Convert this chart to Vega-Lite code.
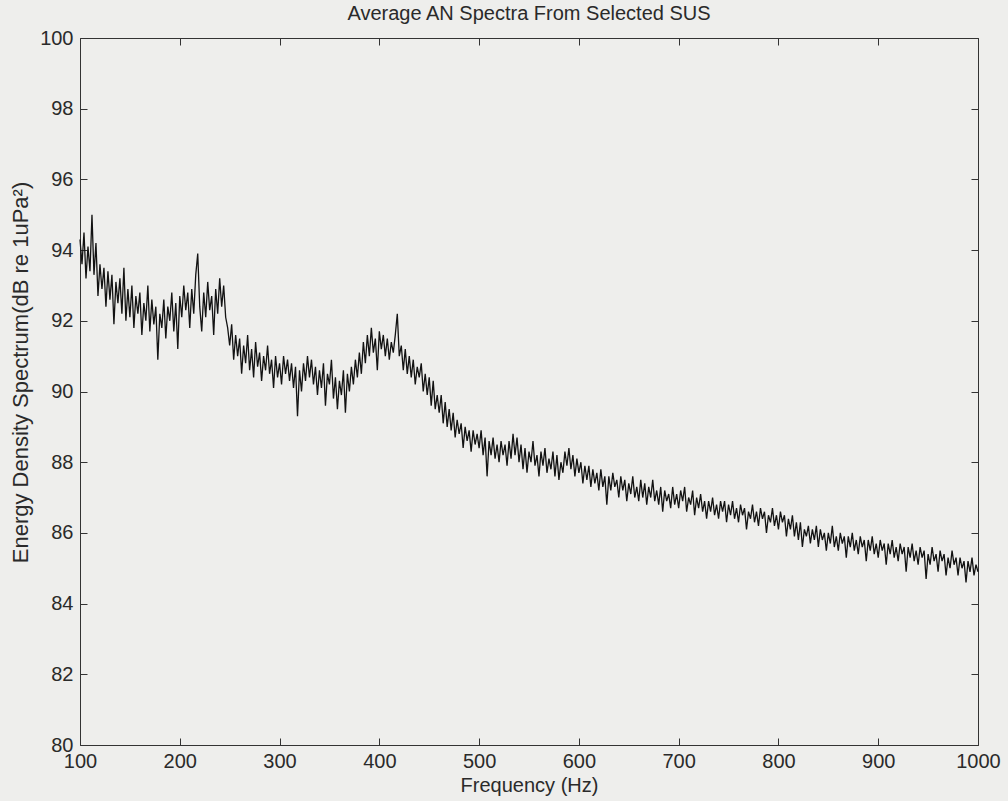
{
  "$schema": "https://vega.github.io/schema/vega-lite/v6.json",
  "width": 898,
  "height": 707,
  "autosize": {"type": "none"},
  "padding": {"left": 80, "top": 38, "right": 30, "bottom": 56},
  "background": "#eeeeec",
  "title": {"text": "Average AN Spectra From Selected SUS", "font": "Liberation Sans", "fontSize": 20, "fontWeight": "normal", "color": "#2a2a2a", "offset": 4, "anchor": "middle"},
  "config": {
    "view": {"stroke": null},
    "axis": {"domainColor": "#333333", "tickColor": "#333333", "tickSize": -7, "grid": false, "labelFlush": false, "labelFont": "Liberation Sans", "labelFontSize": 20, "labelColor": "#2a2a2a", "titleFont": "Liberation Sans", "titleFontSize": 20, "titleFontWeight": "normal", "titleColor": "#2a2a2a", "domainWidth": 1, "tickWidth": 1}
  },
  "data": {"values": [
{"f":100,"d":94.3},{"f":102,"d":93.6},{"f":104,"d":94.5},{"f":106,"d":93.2},{"f":108,"d":94.1},{"f":110,"d":93.4},{"f":112,"d":95.0},{"f":114,"d":93.3},{"f":116,"d":94.2},{"f":118,"d":92.7},
{"f":120,"d":93.6},{"f":122,"d":92.9},{"f":124,"d":93.5},{"f":126,"d":92.4},{"f":128,"d":93.4},{"f":130,"d":92.6},{"f":132,"d":93.3},{"f":134,"d":91.9},{"f":136,"d":93.1},{"f":138,"d":92.5},
{"f":140,"d":93.2},{"f":142,"d":92.2},{"f":144,"d":93.5},{"f":146,"d":92.0},{"f":148,"d":92.9},{"f":150,"d":92.1},{"f":152,"d":93.0},{"f":154,"d":91.8},{"f":156,"d":92.7},{"f":158,"d":92.2},
{"f":160,"d":92.8},{"f":162,"d":91.6},{"f":164,"d":92.5},{"f":166,"d":92.0},{"f":168,"d":93.0},{"f":170,"d":91.7},{"f":172,"d":92.6},{"f":174,"d":91.9},{"f":176,"d":92.4},{"f":178,"d":90.9},
{"f":180,"d":92.2},{"f":182,"d":91.8},{"f":184,"d":92.6},{"f":186,"d":91.5},{"f":188,"d":92.4},{"f":190,"d":92.0},{"f":192,"d":92.8},{"f":194,"d":91.7},{"f":196,"d":92.5},{"f":198,"d":91.2},
{"f":200,"d":92.7},{"f":202,"d":92.1},{"f":204,"d":93.0},{"f":206,"d":92.3},{"f":208,"d":92.8},{"f":210,"d":91.8},{"f":212,"d":92.9},{"f":214,"d":92.2},{"f":216,"d":93.3},{"f":218,"d":93.9},
{"f":220,"d":92.4},{"f":222,"d":91.7},{"f":224,"d":92.8},{"f":226,"d":92.1},{"f":228,"d":93.1},{"f":230,"d":92.3},{"f":232,"d":92.7},{"f":234,"d":91.6},{"f":236,"d":92.9},{"f":238,"d":92.2},
{"f":240,"d":93.2},{"f":242,"d":92.4},{"f":244,"d":93.0},{"f":246,"d":92.1},{"f":248,"d":91.8},{"f":250,"d":91.3},{"f":252,"d":91.9},{"f":254,"d":90.9},{"f":256,"d":91.6},{"f":258,"d":91.0},
{"f":260,"d":91.5},{"f":262,"d":90.5},{"f":264,"d":91.3},{"f":266,"d":90.8},{"f":268,"d":91.6},{"f":270,"d":90.6},{"f":272,"d":91.2},{"f":274,"d":90.4},{"f":276,"d":91.4},{"f":278,"d":90.7},
{"f":280,"d":91.1},{"f":282,"d":90.3},{"f":284,"d":91.0},{"f":286,"d":90.6},{"f":288,"d":91.3},{"f":290,"d":90.5},{"f":292,"d":90.9},{"f":294,"d":90.1},{"f":296,"d":91.0},{"f":298,"d":90.4},
{"f":300,"d":90.8},{"f":302,"d":90.2},{"f":304,"d":91.0},{"f":306,"d":90.5},{"f":308,"d":90.9},{"f":310,"d":90.3},{"f":312,"d":90.8},{"f":314,"d":90.1},{"f":316,"d":90.7},{"f":318,"d":89.3},
{"f":320,"d":90.6},{"f":322,"d":90.0},{"f":324,"d":90.8},{"f":326,"d":90.3},{"f":328,"d":91.0},{"f":330,"d":90.4},{"f":332,"d":90.9},{"f":334,"d":90.2},{"f":336,"d":90.7},{"f":338,"d":89.9},
{"f":340,"d":90.6},{"f":342,"d":90.1},{"f":344,"d":90.8},{"f":346,"d":89.6},{"f":348,"d":90.5},{"f":350,"d":90.2},{"f":352,"d":90.9},{"f":354,"d":89.8},{"f":356,"d":90.4},{"f":358,"d":89.5},
{"f":360,"d":90.3},{"f":362,"d":89.9},{"f":364,"d":90.6},{"f":366,"d":89.4},{"f":368,"d":90.5},{"f":370,"d":90.0},{"f":372,"d":90.7},{"f":374,"d":90.2},{"f":376,"d":90.9},{"f":378,"d":90.4},
{"f":380,"d":91.1},{"f":382,"d":90.5},{"f":384,"d":91.4},{"f":386,"d":90.8},{"f":388,"d":91.6},{"f":390,"d":91.0},{"f":392,"d":91.8},{"f":394,"d":91.1},{"f":396,"d":91.5},{"f":398,"d":90.6},
{"f":400,"d":91.7},{"f":402,"d":91.2},{"f":404,"d":91.6},{"f":406,"d":91.0},{"f":408,"d":91.5},{"f":410,"d":90.9},{"f":412,"d":91.4},{"f":414,"d":91.1},{"f":416,"d":91.6},{"f":418,"d":92.2},
{"f":420,"d":91.0},{"f":422,"d":91.3},{"f":424,"d":90.6},{"f":426,"d":91.2},{"f":428,"d":90.5},{"f":430,"d":91.0},{"f":432,"d":90.4},{"f":434,"d":90.9},{"f":436,"d":90.2},{"f":438,"d":90.7},
{"f":440,"d":90.4},{"f":442,"d":90.8},{"f":444,"d":90.0},{"f":446,"d":90.5},{"f":448,"d":89.9},{"f":450,"d":90.4},{"f":452,"d":89.6},{"f":454,"d":90.3},{"f":456,"d":89.5},{"f":458,"d":89.9},
{"f":460,"d":89.4},{"f":462,"d":89.9},{"f":464,"d":89.1},{"f":466,"d":89.7},{"f":468,"d":89.0},{"f":470,"d":89.5},{"f":472,"d":88.9},{"f":474,"d":89.4},{"f":476,"d":88.7},{"f":478,"d":89.2},
{"f":480,"d":88.8},{"f":482,"d":89.1},{"f":484,"d":88.4},{"f":486,"d":89.0},{"f":488,"d":88.6},{"f":490,"d":88.9},{"f":492,"d":88.3},{"f":494,"d":88.9},{"f":496,"d":88.5},{"f":498,"d":88.8},
{"f":500,"d":88.4},{"f":502,"d":88.9},{"f":504,"d":88.2},{"f":506,"d":88.7},{"f":508,"d":87.6},{"f":510,"d":88.6},{"f":512,"d":88.2},{"f":514,"d":88.7},{"f":516,"d":88.1},{"f":518,"d":88.5},
{"f":520,"d":88.0},{"f":522,"d":88.6},{"f":524,"d":88.2},{"f":526,"d":88.5},{"f":528,"d":87.9},{"f":530,"d":88.6},{"f":532,"d":88.1},{"f":534,"d":88.8},{"f":536,"d":88.2},{"f":538,"d":88.7},
{"f":540,"d":88.0},{"f":542,"d":88.5},{"f":544,"d":87.8},{"f":546,"d":88.4},{"f":548,"d":87.7},{"f":550,"d":88.3},{"f":552,"d":88.0},{"f":554,"d":88.6},{"f":556,"d":87.9},{"f":558,"d":88.2},
{"f":560,"d":87.6},{"f":562,"d":88.3},{"f":564,"d":87.9},{"f":566,"d":88.4},{"f":568,"d":87.7},{"f":570,"d":88.1},{"f":572,"d":87.8},{"f":574,"d":88.3},{"f":576,"d":87.6},{"f":578,"d":88.2},
{"f":580,"d":87.5},{"f":582,"d":88.0},{"f":584,"d":87.7},{"f":586,"d":88.3},{"f":588,"d":87.9},{"f":590,"d":88.4},{"f":592,"d":87.8},{"f":594,"d":88.2},{"f":596,"d":87.6},{"f":598,"d":88.1},
{"f":600,"d":87.7},{"f":602,"d":88.0},{"f":604,"d":87.4},{"f":606,"d":87.9},{"f":608,"d":87.5},{"f":610,"d":87.9},{"f":612,"d":87.3},{"f":614,"d":87.8},{"f":616,"d":87.4},{"f":618,"d":87.7},
{"f":620,"d":87.2},{"f":622,"d":87.8},{"f":624,"d":87.3},{"f":626,"d":87.6},{"f":628,"d":86.8},{"f":630,"d":87.6},{"f":632,"d":87.2},{"f":634,"d":87.7},{"f":636,"d":87.3},{"f":638,"d":87.5},
{"f":640,"d":87.0},{"f":642,"d":87.6},{"f":644,"d":87.2},{"f":646,"d":87.5},{"f":648,"d":86.9},{"f":650,"d":87.4},{"f":652,"d":87.1},{"f":654,"d":87.6},{"f":656,"d":87.0},{"f":658,"d":87.3},
{"f":660,"d":86.9},{"f":662,"d":87.5},{"f":664,"d":87.0},{"f":666,"d":87.4},{"f":668,"d":86.8},{"f":670,"d":87.3},{"f":672,"d":87.0},{"f":674,"d":87.5},{"f":676,"d":86.9},{"f":678,"d":87.2},
{"f":680,"d":86.8},{"f":682,"d":87.3},{"f":684,"d":86.6},{"f":686,"d":87.2},{"f":688,"d":86.9},{"f":690,"d":87.1},{"f":692,"d":86.7},{"f":694,"d":87.3},{"f":696,"d":86.8},{"f":698,"d":87.1},
{"f":700,"d":86.7},{"f":702,"d":87.2},{"f":704,"d":86.9},{"f":706,"d":87.3},{"f":708,"d":86.6},{"f":710,"d":87.0},{"f":712,"d":86.8},{"f":714,"d":87.2},{"f":716,"d":86.5},{"f":718,"d":87.0},
{"f":720,"d":86.7},{"f":722,"d":87.1},{"f":724,"d":86.6},{"f":726,"d":86.9},{"f":728,"d":86.4},{"f":730,"d":86.9},{"f":732,"d":86.6},{"f":734,"d":87.0},{"f":736,"d":86.5},{"f":738,"d":86.8},
{"f":740,"d":86.4},{"f":742,"d":86.9},{"f":744,"d":86.6},{"f":746,"d":86.9},{"f":748,"d":86.3},{"f":750,"d":86.8},{"f":752,"d":86.5},{"f":754,"d":86.9},{"f":756,"d":86.4},{"f":758,"d":86.7},
{"f":760,"d":86.3},{"f":762,"d":86.8},{"f":764,"d":86.5},{"f":766,"d":86.7},{"f":768,"d":86.1},{"f":770,"d":86.6},{"f":772,"d":86.4},{"f":774,"d":86.8},{"f":776,"d":86.3},{"f":778,"d":86.6},
{"f":780,"d":86.2},{"f":782,"d":86.7},{"f":784,"d":86.4},{"f":786,"d":86.6},{"f":788,"d":86.0},{"f":790,"d":86.5},{"f":792,"d":86.3},{"f":794,"d":86.7},{"f":796,"d":86.2},{"f":798,"d":86.5},
{"f":800,"d":86.1},{"f":802,"d":86.6},{"f":804,"d":86.3},{"f":806,"d":86.5},{"f":808,"d":85.9},{"f":810,"d":86.4},{"f":812,"d":86.1},{"f":814,"d":86.5},{"f":816,"d":85.9},{"f":818,"d":86.3},
{"f":820,"d":85.8},{"f":822,"d":86.3},{"f":824,"d":85.6},{"f":826,"d":86.1},{"f":828,"d":85.9},{"f":830,"d":86.2},{"f":832,"d":85.7},{"f":834,"d":86.1},{"f":836,"d":85.8},{"f":838,"d":86.2},
{"f":840,"d":85.6},{"f":842,"d":86.1},{"f":844,"d":85.8},{"f":846,"d":86.0},{"f":848,"d":85.5},{"f":850,"d":86.0},{"f":852,"d":85.7},{"f":854,"d":86.2},{"f":856,"d":85.6},{"f":858,"d":85.9},
{"f":860,"d":85.5},{"f":862,"d":86.0},{"f":864,"d":85.7},{"f":866,"d":85.9},{"f":868,"d":85.3},{"f":870,"d":85.9},{"f":872,"d":85.6},{"f":874,"d":86.0},{"f":876,"d":85.5},{"f":878,"d":85.8},
{"f":880,"d":85.4},{"f":882,"d":85.9},{"f":884,"d":85.6},{"f":886,"d":85.8},{"f":888,"d":85.2},{"f":890,"d":85.8},{"f":892,"d":85.5},{"f":894,"d":85.9},{"f":896,"d":85.4},{"f":898,"d":85.7},
{"f":900,"d":85.3},{"f":902,"d":85.8},{"f":904,"d":85.5},{"f":906,"d":85.7},{"f":908,"d":85.1},{"f":910,"d":85.7},{"f":912,"d":85.4},{"f":914,"d":85.8},{"f":916,"d":85.3},{"f":918,"d":85.6},
{"f":920,"d":85.2},{"f":922,"d":85.7},{"f":924,"d":85.4},{"f":926,"d":85.6},{"f":928,"d":84.9},{"f":930,"d":85.6},{"f":932,"d":85.3},{"f":934,"d":85.7},{"f":936,"d":85.2},{"f":938,"d":85.5},
{"f":940,"d":85.1},{"f":942,"d":85.6},{"f":944,"d":85.3},{"f":946,"d":85.5},{"f":948,"d":84.7},{"f":950,"d":85.4},{"f":952,"d":85.1},{"f":954,"d":85.6},{"f":956,"d":85.2},{"f":958,"d":85.4},
{"f":960,"d":84.9},{"f":962,"d":85.5},{"f":964,"d":85.2},{"f":966,"d":85.4},{"f":968,"d":84.8},{"f":970,"d":85.3},{"f":972,"d":85.0},{"f":974,"d":85.5},{"f":976,"d":85.1},{"f":978,"d":85.3},
{"f":980,"d":84.8},{"f":982,"d":85.3},{"f":984,"d":85.0},{"f":986,"d":85.2},{"f":988,"d":84.6},{"f":990,"d":85.2},{"f":992,"d":84.9},{"f":994,"d":85.3},{"f":996,"d":84.8},{"f":998,"d":85.1},
{"f":1000,"d":84.9}
  ]},
  "layer": [
    {
      "mark": {"type": "line", "color": "#161616", "strokeWidth": 1, "opacity": 0},
      "encoding": {
        "x": {"field": "f", "type": "quantitative", "scale": {"domain": [100, 1000], "nice": false, "zero": false}, "axis": {"orient": "top", "labels": false, "title": null, "values": [100,200,300,400,500,600,700,800,900,1000]}},
        "y": {"field": "d", "type": "quantitative", "scale": {"domain": [80, 100], "nice": false, "zero": false}, "axis": {"orient": "right", "labels": false, "title": null, "values": [80,82,84,86,88,90,92,94,96,98,100]}}
      }
    },
    {
      "mark": {"type": "line", "color": "#121212", "strokeWidth": 1.3},
      "encoding": {
        "x": {"field": "f", "type": "quantitative", "scale": {"domain": [100, 1000], "nice": false, "zero": false}, "axis": {"orient": "bottom", "title": "Frequency (Hz)", "format": "d", "values": [100,200,300,400,500,600,700,800,900,1000], "labelPadding": 13, "titlePadding": 4}},
        "y": {"field": "d", "type": "quantitative", "scale": {"domain": [80, 100], "nice": false, "zero": false}, "axis": {"orient": "left", "title": "Energy Density Spectrum(dB re 1uPa²)", "format": "d", "values": [80,82,84,86,88,90,92,94,96,98,100], "labelPadding": 14, "titleFontSize": 22, "titleX": -60, "titleY": 334, "titleBaseline": "middle", "titleAngle": 270}}
      }
    }
  ]
}
